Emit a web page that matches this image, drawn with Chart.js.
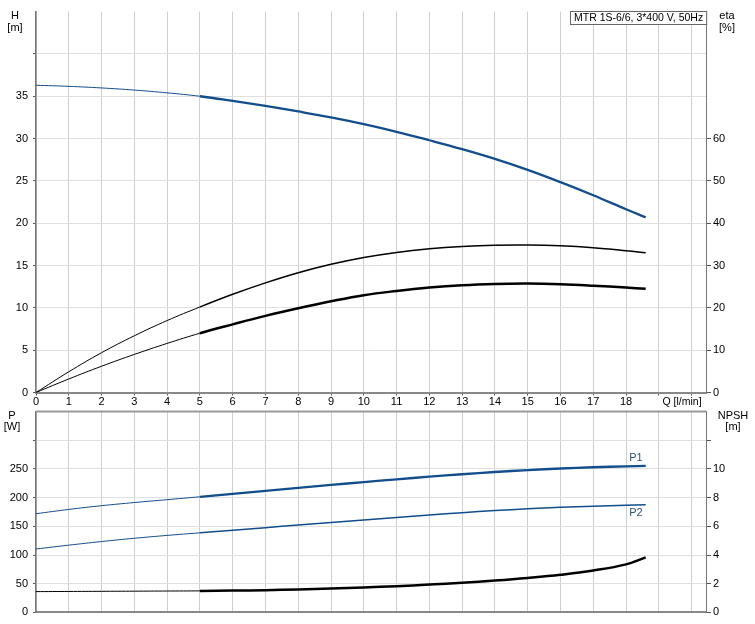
<!DOCTYPE html>
<html><head><meta charset="utf-8">
<script src="https://cdn.jsdelivr.net/npm/chart.js@4"></script>
<style>
html,body{margin:0;padding:0;background:#fff;}
#wrap{position:relative;width:755px;height:624px;overflow:hidden;}
#c1{position:absolute;left:0;top:0;}
#c2{position:absolute;left:0;top:400px;}
</style></head><body>
<div id="wrap"><canvas id="c1" width="755" height="410"></canvas><canvas id="c2" width="755" height="224"></canvas></div>
<script>
// ---- data ----
const flow     = [0, 1, 2, 3, 4, 5, 6, 7, 8, 9, 10, 11, 12, 13, 14, 15, 16, 17, 18, 18.6];
const head     = [36.3, 36.17, 35.98, 35.73, 35.4, 35.0, 34.45, 33.85, 33.2, 32.5, 31.7, 30.8, 29.8, 28.75, 27.6, 26.3, 24.85, 23.3, 21.65, 20.7];
const etaUpper = [0, 4.9, 9.4, 13.4, 17.0, 20.2, 23.2, 25.9, 28.3, 30.3, 31.9, 33.1, 33.95, 34.5, 34.8, 34.85, 34.65, 34.2, 33.5, 33.0];
const etaLower = [0, 3.2, 6.2, 9.0, 11.6, 14.0, 16.1, 18.1, 19.9, 21.55, 23.0, 24.0, 24.8, 25.35, 25.65, 25.75, 25.6, 25.25, 24.8, 24.5];
const powerP1  = [172, 179.5, 186, 191.5, 196.5, 201.5, 206.7, 211.9, 217.1, 222.2, 227.1, 231.9, 236.5, 240.8, 244.7, 248.0, 250.8, 253.0, 254.6, 255.3];
const powerP2  = [110.5, 117.2, 123.5, 129.2, 134.2, 138.7, 143.2, 147.7, 152.2, 156.7, 161.2, 165.6, 169.8, 173.8, 177.4, 180.5, 183.1, 185.2, 186.9, 187.8];
const npsh     = [1.45, 1.46, 1.47, 1.48, 1.49, 1.50, 1.52, 1.55, 1.60, 1.66, 1.74, 1.83, 1.94, 2.07, 2.22, 2.40, 2.62, 2.92, 3.35, 3.84];
const title = 'MTR 1S-6/6, 3*400 V, 50Hz';

const FONT = '"Liberation Sans", Arial, sans-serif';
const BLUE = '#124d8c';
const pts = arr => flow.map((q, i) => ({x: q, y: arr[i]}));
const seg = (thin, thick) => ({ borderWidth: c => (c.p0.parsed.x < 5 ? thin : thick) });
function ds(arr, color, thin, thick, axis) {
  return { data: pts(arr), borderColor: color, borderWidth: thick, pointRadius: 0,
           tension: 0.4, yAxisID: axis, segment: seg(thin, thick), fill: false };
}
const tickFont = {family: FONT, size: 11};
function txt(ctx, s, x, y, align, color) {
  ctx.fillStyle = color || '#000'; ctx.textAlign = align || 'center'; ctx.textBaseline = 'middle'; ctx.fillText(s, x, y);
}
const xScale = (showLabels, h) => ({
  type: 'linear', min: 0, max: 20.44, position: 'bottom',
  afterFit: s => { s.height = h; },
  ticks: { stepSize: 1, includeBounds: false, display: showLabels, autoSkip: false, maxRotation: 0,
           padding: 0, color: '#000', font: tickFont, callback: v => (v <= 18 ? String(v) : '') },
  grid: { color: '#cfcfcf', lineWidth: 1, tickLength: 3, drawTicks: showLabels, tickColor: '#555' },
  border: { color: '#888', width: 2 }
});

// ---- top chart ----
new Chart(document.getElementById('c1'), {
  type: 'line',
  data: { datasets: [
    ds(head, BLUE, 1, 2.3, 'yH'),
    ds(etaUpper, '#000', 1, 1.5, 'yEta'),
    ds(etaLower, '#000', 1, 2.5, 'yEta')
  ]},
  options: {
    responsive: false, animation: false, devicePixelRatio: 1,
    layout: { padding: { top: 11, left: 0, right: 0, bottom: 0 } },
    plugins: { legend: { display: false }, tooltip: { enabled: false } },
    scales: {
      x: xScale(true, 17.5),
      yH: { type: 'linear', position: 'left', min: 0, max: 45,
        afterFit: s => { s.width = 36; },
        ticks: { stepSize: 5, padding: 5, color: '#000', font: tickFont, callback: v => (v <= 35 ? String(v) : '') },
        grid: { color: c => (c.tick && c.tick.value >= 45 ? 'rgba(0,0,0,0)' : '#e0e0e0'), tickLength: 3,
                tickColor: c => (c.tick && c.tick.value >= 45 ? 'rgba(0,0,0,0)' : '#555') },
        border: { color: '#777', width: 1.5 } },
      yEta: { type: 'linear', position: 'right', min: 0, max: 90,
        afterFit: s => { s.width = 49; },
        ticks: { stepSize: 10, padding: 2, color: '#000', font: tickFont, callback: v => (v <= 60 ? String(v) : '') },
        grid: { drawOnChartArea: false, tickLength: 5,
                tickColor: c => (c.tick && c.tick.value > 60 ? 'rgba(0,0,0,0)' : '#555') },
        border: { color: '#777', width: 1 } }
    }
  },
  plugins: [{ id: 'deco1', afterDraw(chart) {
    const ctx = chart.ctx; ctx.save();
    ctx.font = '11px ' + FONT;
    txt(ctx, 'H', 15, 16); txt(ctx, '[m]', 15, 28);
    txt(ctx, 'eta', 727, 16); txt(ctx, '[%]', 727, 28);
    ctx.font = '10.5px ' + FONT;
    txt(ctx, 'Q [l/min]', 682, 402.5);
    const a = chart.chartArea;
    const w = ctx.measureText(title).width + 7;
    const bx = Math.round(a.right - w) + 0.5;
    ctx.fillStyle = '#fff'; ctx.fillRect(bx, 11.5, w, 13);
    ctx.strokeStyle = '#666'; ctx.lineWidth = 1; ctx.strokeRect(bx, 11.5, w, 13);
    txt(ctx, title, bx + 3.5, 18.5, 'left');
    ctx.restore();
  }}]
});

// ---- bottom chart ----
new Chart(document.getElementById('c2'), {
  type: 'line',
  data: { datasets: [
    ds(powerP1, BLUE, 1, 2.3, 'yP'),
    ds(powerP2, BLUE, 1, 1.5, 'yP'),
    ds(npsh, '#000', 1, 2.5, 'yN')
  ]},
  options: {
    responsive: false, animation: false, devicePixelRatio: 1,
    layout: { padding: { top: 11, left: 0, right: 0, bottom: 0 } },
    plugins: { legend: { display: false }, tooltip: { enabled: false } },
    scales: {
      x: xScale(false, 11),
      yP: { type: 'linear', position: 'left', min: 0, max: 350,
        afterFit: s => { s.width = 36; },
        ticks: { stepSize: 50, padding: 5, color: '#000', font: tickFont, callback: v => (v <= 250 ? String(v) : '') },
        grid: { color: c => (c.tick && c.tick.value >= 350 ? 'rgba(0,0,0,0)' : '#e0e0e0'), tickLength: 3,
                tickColor: c => (c.tick && c.tick.value >= 350 ? 'rgba(0,0,0,0)' : '#555') },
        border: { color: '#777', width: 1.5 } },
      yN: { type: 'linear', position: 'right', min: 0, max: 14,
        afterFit: s => { s.width = 49; },
        ticks: { stepSize: 2, padding: 2, color: '#000', font: tickFont, callback: v => (v <= 10 ? String(v) : '') },
        grid: { drawOnChartArea: false, tickLength: 5,
                tickColor: c => (c.tick && c.tick.value > 12 ? 'rgba(0,0,0,0)' : '#555') },
        border: { color: '#777', width: 1 } }
    }
  },
  plugins: [{ id: 'deco2', afterDraw(chart) {
    const ctx = chart.ctx, a = chart.chartArea; ctx.save();
    ctx.strokeStyle = '#999'; ctx.lineWidth = 2;
    ctx.beginPath(); ctx.moveTo(a.left, a.top); ctx.lineTo(a.right, a.top); ctx.stroke();
    ctx.font = '11px ' + FONT;
    txt(ctx, 'P', 12, 15.7); txt(ctx, '[W]', 12, 27);
    txt(ctx, 'NPSH', 733, 15.7); txt(ctx, '[m]', 733, 27);
    const xs = chart.scales.x, yp = chart.scales.yP;
    const n = flow.length - 1;
    txt(ctx, 'P1', xs.getPixelForValue(18.3), yp.getPixelForValue(powerP1[n]) - 8, 'center', '#2d4f7a');
    txt(ctx, 'P2', xs.getPixelForValue(18.3), yp.getPixelForValue(powerP2[n]) + 8, 'center', '#2d4f7a');
    ctx.restore();
  }}]
});
</script>
</body></html>
